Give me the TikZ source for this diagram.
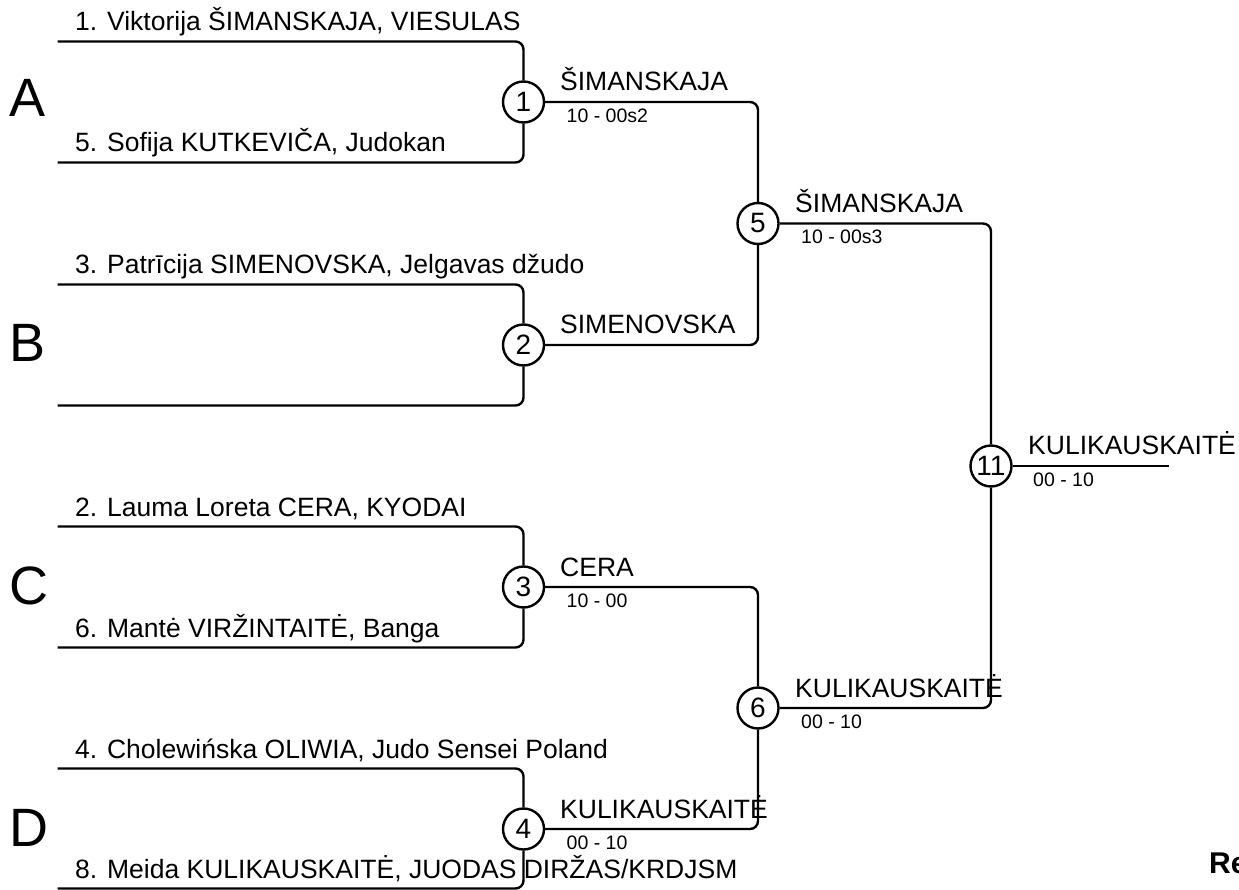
\documentclass[tikz,border=0pt]{standalone}
\usepackage{fontspec}
\setmainfont{Liberation Sans}
\begin{document}
\begin{tikzpicture}[x=1pt,y=-1pt,
  ln/.style={line width=2.4pt, rounded corners=8pt},
  mt/.style={circle, draw, line width=2.4pt, minimum size=41pt, inner sep=0pt, fill=white, font=\fontsize{28}{28}\selectfont},
  nm/.style={anchor=base west, inner sep=0pt, font=\fontsize{26.5}{30}\selectfont},
  sc/.style={anchor=base west, inner sep=0pt, font=\fontsize{19.5}{22}\selectfont},
  grp/.style={anchor=base west, inner sep=0pt, font=\fontsize{54}{60}\selectfont}]
\useasboundingbox (0,0) rectangle (1239,890);

% match circles
\node[mt] (m1) at (523.5,102) {1};
\node[mt] (m2) at (523.5,345) {2};
\node[mt] (m3) at (523.5,587) {3};
\node[mt] (m4) at (523.5,829) {4};
\node[mt] (m5) at (758,223.5) {5};
\node[mt] (m6) at (758,708) {6};
\node[mt] (m11) at (991,466) {11};

% free ends
\coordinate (a1) at (57.5,41.5);
\coordinate (a2) at (57.5,162.5);
\coordinate (b1) at (57.5,284.5);
\coordinate (b2) at (57.5,405.5);
\coordinate (c1) at (57.5,526.5);
\coordinate (c2) at (57.5,647.5);
\coordinate (d1) at (57.5,768.5);
\coordinate (d2) at (57.5,888.5);
\coordinate (fin) at (1169,466);

% connectors
\draw[ln] (a1) -| (m1);
\draw[ln] (a2) -| (m1);
\draw[ln] (b1) -| (m2);
\draw[ln] (b2) -| (m2);
\draw[ln] (c1) -| (m3);
\draw[ln] (c2) -| (m3);
\draw[ln] (d1) -| (m4);
\draw[ln] (d2) -| (m4);
\draw[ln] (m1) -| (m5);
\draw[ln] (m2) -| (m5);
\draw[ln] (m3) -| (m6);
\draw[ln] (m4) -| (m6);
\draw[ln] (m5) -| (m11);
\draw[ln] (m6) -| (m11);
\draw[ln] (m11) -- (fin);

% group letters
\node[grp] (gA) at (9,117) {A};
\node[grp] (gB) at (9,362) {B};
\node[grp] (gC) at (9,604) {C};
\node[grp] (gD) at (9,846) {D};

% competitors
\node[nm] (n1) at (75,31) {1. Viktorija ŠIMANSKAJA, VIESULAS};
\node[nm] (n5) at (75,152) {5. Sofija KUTKEVIČA, Judokan};
\node[nm] (n3) at (75,274) {3. Patrīcija SIMENOVSKA, Jelgavas džudo};
\node[nm] (n2) at (75,516) {2. Lauma Loreta CERA, KYODAI};
\node[nm] (n6) at (75,637) {6. Mantė VIRŽINTAITĖ, Banga};
\node[nm] (n4) at (75,758) {4. Cholewińska OLIWIA, Judo Sensei Poland};
\node[nm] (n8) at (75,878) {8. Meida KULIKAUSKAITĖ, JUODAS DIRŽAS/KRDJSM};

% winners and scores
\node[nm] (w1) at (560,91) {ŠIMANSKAJA};
\node[sc] (s1) at (566.5,122.5) {10 - 00s2};
\node[nm] (w2) at (560,334) {SIMENOVSKA};
\node[nm] (w3) at (560,576) {CERA};
\node[sc] (s3) at (566.5,607.5) {10 - 00};
\node[nm] (w4) at (560,818) {KULIKAUSKAITĖ};
\node[sc] (s4) at (566.5,849.5) {00 - 10};
\node[nm] (w5) at (795,212.5) {ŠIMANSKAJA};
\node[sc] (s5) at (801,244) {10 - 00s3};
\node[nm] (w6) at (795,697) {KULIKAUSKAITĖ};
\node[sc] (s6) at (801,728.5) {00 - 10};
\node[nm] (w11) at (1028,454) {KULIKAUSKAITĖ};
\node[sc] (s11) at (1033,486) {00 - 10};

% label cut off at the right edge, as in the reference
\node[anchor=base west, inner sep=0pt, font=\fontsize{30}{34}\selectfont\bfseries] (re) at (1209,873) {Re};
\end{tikzpicture}
\end{document}
